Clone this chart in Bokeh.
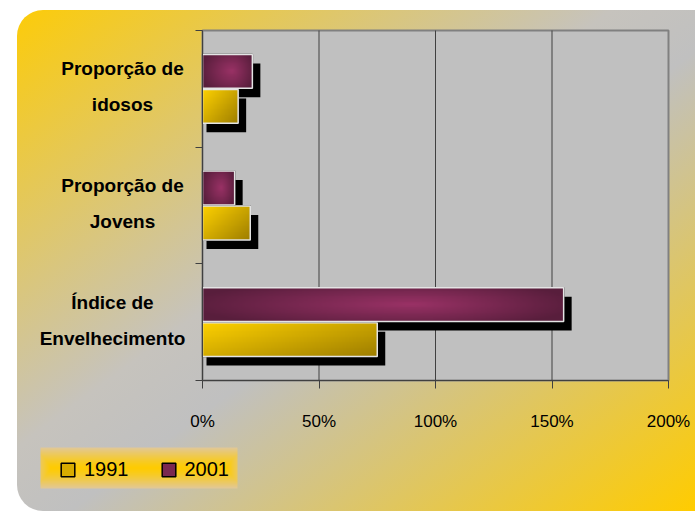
import numpy as np
from bokeh.plotting import figure
from bokeh.models import (Range1d, FixedTicker, NumeralTickFormatter, Legend, LegendItem,
                          ColumnDataSource)
from bokeh.core.properties import value
from bokeh.embed import file_html
from bokeh.resources import INLINE

# ---- data ----
categories = ["Índice de\nEnvelhecimento", "Proporção de\nJovens", "Proporção de\nidosos"]
series = ["1991", "2001"]
values_1991 = [0.75, 0.205, 0.153]
values_2001 = [1.55, 0.138, 0.214]
x_ticks = [0, 0.5, 1.0, 1.5, 2.0]

# ---- layout (page pixels) ----
FIG_X, FIG_Y, FIG_W, FIG_H = 0, 0, 695, 511
PA_L, PA_R, PA_T, PA_B = 202, 668, 30, 380     # plot-area box
LABEL_CENTERS_PX = [112, 122, 122]             # centre of each category label block
LEG_L, LEG_R, LEG_T, LEG_B = 40, 237, 447, 488  # legend band
X_MAX, N_CAT = 2.0, len(categories)
SX = (PA_R - PA_L) / X_MAX                     # px per x unit
SY = (PA_B - PA_T) / N_CAT                     # px per y unit
PX_X, PX_Y = 1 / SX, 1 / SY
x_start = -(PA_L - FIG_X) / SX
x_end = X_MAX + (FIG_X + FIG_W - PA_R) / SX
y_start = -(FIG_Y + FIG_H - PA_B) / SY
y_end = N_CAT + (PA_T - FIG_Y) / SY

BAR_H = 0.29
DODGE = 0.15
FONT = "Liberation Sans"

p = figure(width=FIG_W, height=FIG_H, output_backend="svg", toolbar_location=None,
           x_range=Range1d(x_start, x_end), y_range=Range1d(y_start, y_end), min_border=0)
p.styles = {
    "background": "linear-gradient(to bottom right, #FFCC00 0%, #C6C3BD 45%, #C0C0C0 55%, #FFCC00 100%)",
    "clip-path": "inset(10px 0px 0px 17px round 26px 0px 0px 26px)",
}
p.border_fill_color = None
p.background_fill_color = None
p.outline_line_color = None

# plot area
p.quad(left=[0], right=[X_MAX], bottom=[0], top=[N_CAT], fill_color="#C0C0C0",
       line_color="#808080", line_width=2)
p.segment(x0=x_ticks[1:-1], x1=x_ticks[1:-1], y0=0, y1=N_CAT, line_color="#404040", line_width=1)

idx = np.arange(N_CAT)
y1991 = idx + 0.5 - DODGE
y2001 = idx + 0.5 + DODGE


def blend(c0, c1, t):
    img = np.empty(t.shape + (4,), dtype=np.uint8)
    for k in range(3):
        img[..., k] = (c0[k] + (c1[k] - c0[k]) * t).astype(np.uint8)
    img[..., 3] = 255
    return img.view(np.uint32).reshape(t.shape)


def grad_yellow(nx=300, ny=40):
    u = np.linspace(0, 1, nx)[None, :]
    v = np.linspace(0, 1, ny)[:, None]  # 0 bottom, 1 top
    t = np.clip(0.55 * u + 0.45 * (1 - v), 0, 1)
    return blend((255, 210, 0), (158, 126, 0), t)


def grad_maroon(nx=300, ny=40):
    u = np.linspace(0, 1, nx)[None, :]
    v = np.linspace(0, 1, ny)[:, None]
    dx = np.where(u < 0.58, (u - 0.58) / 0.58, (u - 0.58) / 0.42)
    dy = (v - 0.5) / 0.5
    d = np.clip(np.sqrt(0.85 * dx ** 2 + 0.45 * dy ** 2), 0, 1)
    return blend((154, 50, 102), (88, 30, 60), d)


def grad_band(nx=200, ny=42):
    u = np.linspace(0, 1, nx)[None, :]
    v = np.linspace(0, 1, ny)[:, None]
    dy = np.abs(v - 0.5) * 2
    dx = np.clip((np.abs(u - 0.5) * 2 - 0.9) / 0.1, 0, 1)
    t = np.clip(np.maximum(dy ** 1.3, dx * 0.6), 0, 1)
    return blend((255, 204, 0), (226, 200, 150), t)


# legend band
p.image_rgba(image=[grad_band()], x=(LEG_L - PA_L) / SX, y=-(LEG_B - PA_B) / SY,
             dw=(LEG_R - LEG_L) / SX, dh=(LEG_B - LEG_T) / SY)

# shadows
for vals, ys in ((values_2001, y2001), (values_1991, y1991)):
    p.quad(left=[4 * PX_X] * N_CAT, right=[v + 8 * PX_X for v in vals],
           bottom=ys - BAR_H / 2 - 9 * PX_Y, top=ys + BAR_H / 2 - 9 * PX_Y,
           fill_color="black", line_color=None)

base_renderers = []
for vals, ys, base, grad in ((values_1991, y1991, "#D8AC00", grad_yellow),
                             (values_2001, y2001, "#7A2850", grad_maroon)):
    r = p.hbar(y=ys, right=vals, left=0, height=BAR_H, fill_color=base,
               line_color="black", line_width=1.5)
    base_renderers.append(r)
    src = ColumnDataSource(dict(image=[grad() for _ in vals], x=[0] * N_CAT,
                                y=list(ys - BAR_H / 2), dw=vals, dh=[BAR_H] * N_CAT))
    p.image_rgba(image="image", x="x", y="y", dw="dw", dh="dh", source=src)
    p.hbar(y=ys, right=vals, left=0, height=BAR_H, fill_color=None,
           line_color="#E4E4E4", line_width=1.5)

# category labels
p.text(x=[(c - PA_L) / SX for c in LABEL_CENTERS_PX], y=idx + 0.5 + 2 * PX_Y, text=categories,
       text_align="center", text_baseline="middle", text_font=value(FONT),
       text_font_style="bold", text_font_size="19px", text_line_height=1.7, text_color="black")

legend = Legend(items=[LegendItem(label=series[0], renderers=[base_renderers[0]]),
                       LegendItem(label=series[1], renderers=[base_renderers[1]])],
                orientation="horizontal", location=(59, FIG_Y + FIG_H - 481),
                background_fill_alpha=0.0, border_line_color=None,
                glyph_width=17, glyph_height=17,
                label_standoff=8, spacing=31, padding=0, margin=0,
                label_text_font=FONT, label_text_font_size="20px", label_text_color="black")
p.add_layout(legend)

# axes
p.xaxis.fixed_location = 0
p.xaxis.bounds = (0, X_MAX)
p.xaxis.ticker = FixedTicker(ticks=x_ticks, minor_ticks=[])
p.xaxis.formatter = NumeralTickFormatter(format="0%")
p.xaxis.major_tick_out = 8
p.xaxis.major_tick_in = 0
p.xaxis.axis_line_color = "#404040"
p.xaxis.major_tick_line_color = "#404040"
p.xaxis.major_label_standoff = 23
p.xaxis.major_label_text_font = FONT
p.xaxis.major_label_text_font_size = "17px"
p.xaxis.major_label_text_color = "black"

p.yaxis.fixed_location = 0
p.yaxis.bounds = (0, N_CAT)
p.yaxis.ticker = FixedTicker(ticks=list(idx + 0.5), minor_ticks=list(range(N_CAT + 1)))
p.yaxis.major_label_text_color = None
p.yaxis.major_tick_line_color = None
p.yaxis.minor_tick_out = 7
p.yaxis.minor_tick_in = 0
p.yaxis.minor_tick_line_color = "#404040"
p.yaxis.axis_line_color = "#404040"

p.xgrid.grid_line_color = None
p.ygrid.grid_line_color = None

open("out.html", "w").write(file_html(p, INLINE))
